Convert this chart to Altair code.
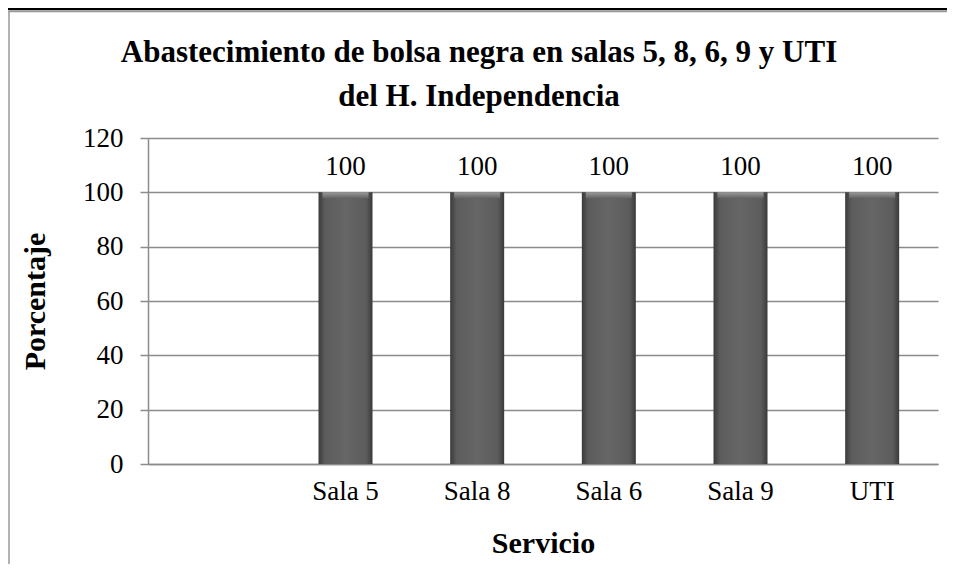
import altair as alt
import pandas as pd

categories = [" ", "Sala 5", "Sala 8", "Sala 6", "Sala 9", "UTI"]
values = [None, 100, 100, 100, 100, 100]
y_ticks = [0, 20, 40, 60, 80, 100, 120]
title_lines = ["Abastecimiento de bolsa negra en salas 5, 8, 6, 9 y UTI", "del H. Independencia"]

df = pd.DataFrame({"Servicio": categories, "Porcentaje": values})
one = pd.DataFrame({"k": [0]})

FONT = "Liberation Serif"
GRAY = "#8c8c8c"

x_enc = alt.X("Servicio:N", sort=categories,
              scale=alt.Scale(domain=categories, paddingInner=0, paddingOuter=0),
              axis=alt.Axis(title="Servicio", labelAngle=0, ticks=False, labelPadding=14,
                            labelFont=FONT, labelFontSize=27, labelColor="black",
                            titleFont=FONT, titleFontSize=30, titleFontWeight="bold",
                            titleColor="black", titleBaseline="middle", titleY=79,
                            domainColor=GRAY, domainWidth=1.5, grid=False))
y_enc = alt.Y("Porcentaje:Q", scale=alt.Scale(domain=[0, 120]),
              axis=alt.Axis(title="Porcentaje", values=y_ticks, tickSize=8, tickColor=GRAY,
                            tickWidth=1.5, labelPadding=17, labelFont=FONT, labelFontSize=27,
                            labelColor="black", titleFont=FONT, titleFontSize=30,
                            titleFontWeight="bold", titleColor="black", titleAngle=-90,
                            titleBaseline="middle", titleX=-113, titleY=163,
                            domainColor=GRAY, domainWidth=1.5,
                            grid=True, gridColor=GRAY, gridWidth=1.5))

bar_grad = alt.Gradient(gradient="linear", x1=0, x2=1, y1=0, y2=0, stops=[
    alt.GradientStop(offset=0, color="#3a3a3a"),
    alt.GradientStop(offset=0.12, color="#5c5c5c"),
    alt.GradientStop(offset=0.5, color="#666666"),
    alt.GradientStop(offset=0.88, color="#5c5c5c"),
    alt.GradientStop(offset=1, color="#3a3a3a"),
])

bars = alt.Chart(df).mark_bar(width=54, fill=bar_grad).encode(x=x_enc, y=y_enc)

bevel_grad = alt.Gradient(gradient="linear", x1=0, x2=0, y1=0, y2=1, stops=[
    alt.GradientStop(offset=0, color="#9a9a9a"),
    alt.GradientStop(offset=1, color="#626262"),
])
bevel = alt.Chart(df).mark_bar(width=46, fill=bevel_grad).encode(
    x=alt.X("Servicio:N", sort=categories), y="Porcentaje:Q", y2=alt.datum(97.8))

labels = alt.Chart(df).mark_text(font=FONT, fontSize=27, color="black",
                                 baseline="middle", dy=-25).encode(
    x=alt.X("Servicio:N", sort=categories), y="Porcentaje:Q", text="Porcentaje:Q")

title = alt.Chart(one).mark_text(text=title_lines, font=FONT, fontSize=31, fontWeight="bold",
                                 color="black", align="center", baseline="alphabetic",
                                 lineHeight=44).encode(
    x=alt.value(331), y=alt.value(-76))

frame_left = alt.Chart(one).mark_rule(color="#999999", strokeWidth=1.5).encode(
    x=alt.value(-139), y=alt.value(-126.5), y2=alt.value(426))
frame_top = alt.Chart(one).mark_rule(color="#999999", strokeWidth=1.5).encode(
    x=alt.value(-139.75), x2=alt.value(799), y=alt.value(-126.5))
page_line = alt.Chart(one).mark_rule(color="black", strokeWidth=2.5).encode(
    x=alt.value(-140), x2=alt.value(799), y=alt.value(-129))

chart = alt.layer(frame_left, frame_top, page_line, bars, bevel, labels, title).properties(
    width=790, height=326,
    autosize=alt.AutoSizeParams(type="none"),
    padding={"left": 140, "top": 130, "right": 9, "bottom": 100},
).configure_view(stroke=None)

chart.save("out.html", embed_options={"renderer": "svg", "actions": False})
